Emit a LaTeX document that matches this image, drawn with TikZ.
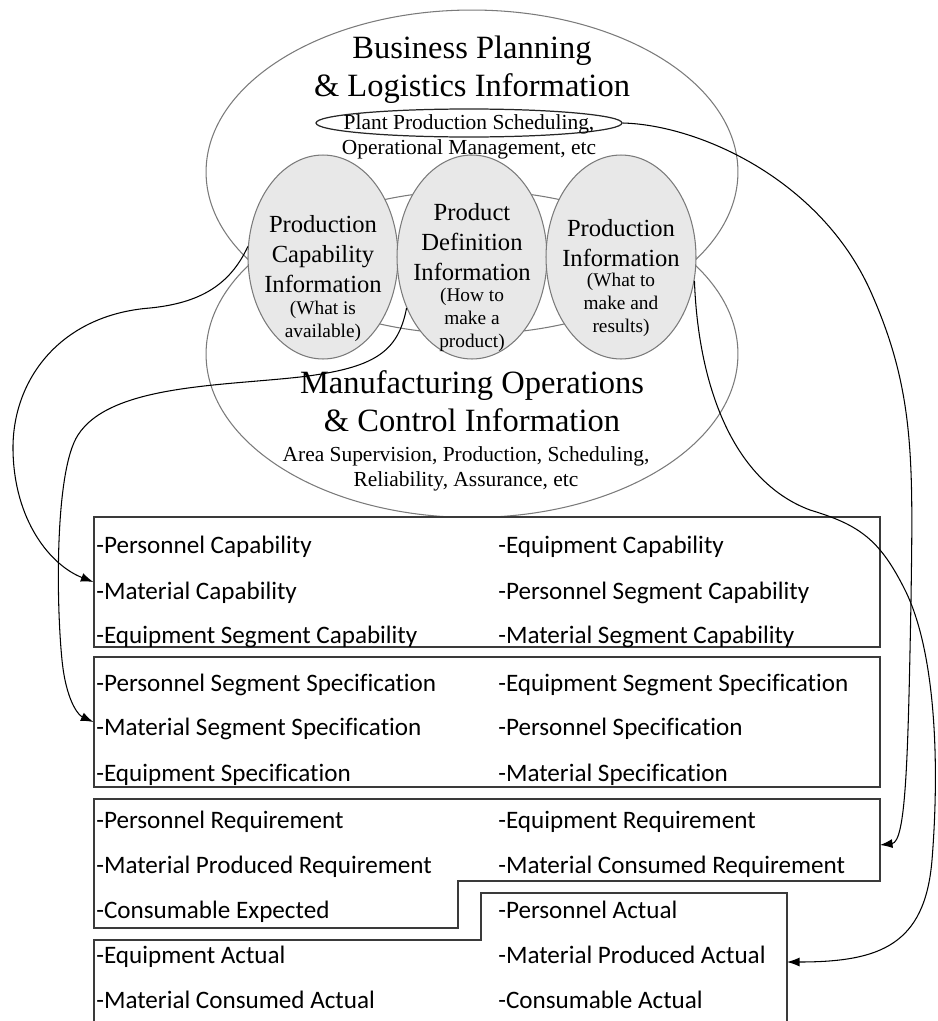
\documentclass[tikz,border=0pt]{standalone}
\usepackage{fontspec}
\setmainfont[Ligatures=NoCommon]{Liberation Serif}
\newfontfamily\boxfont[Ligatures=NoCommon]{Carlito}
\usetikzlibrary{arrows.meta,shapes.geometric,positioning}
\definecolor{ringgray}{HTML}{7A7A7A}
\definecolor{discfill}{HTML}{E8E8E8}
\definecolor{boxline}{HTML}{3A3A3A}

\tikzset{
  ring/.style={draw=ringgray, line width=0.6pt, ellipse, inner sep=0pt},
  disc/.style={ring, fill=discfill, minimum width=3cm, minimum height=4.08cm},
  big/.style={font=\fontsize{18.5}{21.6}\selectfont, align=center},
  mid/.style={font=\fontsize{14}{17}\selectfont, align=center},
  note/.style={font=\fontsize{11}{13}\selectfont, align=center},
  small/.style={font=\fontsize{12.2}{14.6}\selectfont, align=center},
  item/.style={font=\boxfont\fontsize{14.3}{16}\selectfont, anchor=base west, inner sep=0pt},
  listbox/.style={draw=boxline, line width=0.8pt, inner sep=0pt},
  link/.style={->, line width=0.6pt}
}

\begin{document}
\begin{tikzpicture}[x=0.02cm, y=-0.02cm, >={Latex[length=2.5mm,width=1.8mm]}]
  \useasboundingbox (0,0) rectangle (937,1021);

  % Information areas
  \node[ring, minimum width=10.64cm, minimum height=6.48cm] (bizell) at (472,172) {};
  \node[ring, minimum width=10.64cm, minimum height=6.54cm] (mfgell) at (472,354) {};
  \node[disc] (capinfo) at (323,257) {};
  \node[disc] (definfo) at (472,257) {};
  \node[disc] (prodinfo) at (621,257) {};
  \node[draw=black!85, line width=0.7pt, ellipse, inner sep=0pt,
        minimum width=6.12cm, minimum height=0.56cm] (schedell) at (469,123) {};

  \node[big] (biztitle) at (472,70) {Business Planning\\\& Logistics Information};
  \node[small] (biznote) at (469,137) {Plant Production Scheduling,\\Operational Management, etc};

  \node[mid] (captitle) at (323,254) {Production\\Capability\\Information};
  \node[note] (capnote) at (323,321) {(What is\\available)};
  \node[mid] (deftitle) at (472,242) {Product\\Definition\\Information};
  \node[note] (defnote) at (472,320) {(How to\\make a\\product)};
  \node[mid] (prodtitle) at (621,243) {Production\\Information};
  \node[note] (prodnote) at (621,305) {(What to\\make and\\results)};

  \node[big] (mfgtitle) at (472,401) {Manufacturing Operations\\\& Control Information};
  \node[small] (mfgnote) at (466,469) {Area Supervision, Production, Scheduling,\\Reliability, Assurance, etc};

  % Object lists
  \node[listbox, minimum width=15.72cm, minimum height=2.6cm] (capbox) at (487,582) {};
  \node[listbox, minimum width=15.72cm, minimum height=2.6cm] (specbox) at (487,722) {};
  \draw[listbox] (94,799) -- (880,799) -- (880,881) -- (458,881) -- (458,928) -- (94,928) -- cycle;
  \draw[listbox] (94,1021) -- (94,940) -- (481,940) -- (481,893) -- (787,893) -- (787,1021);
  \coordinate (reqtip) at (880,845);
  \coordinate (acttip) at (787,962);

  \node[item] (pcap) at (96,553) {-Personnel Capability};
  \node[item] (mcap) at (96,599) {-Material Capability};
  \node[item] (escap) at (96,643) {-Equipment Segment Capability};
  \node[item] (ecap) at (498,553) {-Equipment Capability};
  \node[item] (pscap) at (498,599) {-Personnel Segment Capability};
  \node[item] (mscap) at (498,643) {-Material Segment Capability};

  \node[item] (psspec) at (96,691) {-Personnel Segment Specification};
  \node[item] (msspec) at (96,735) {-Material Segment Specification};
  \node[item] (espec) at (96,781) {-Equipment Specification};
  \node[item] (esspec) at (498,691) {-Equipment Segment Specification};
  \node[item] (pspec) at (498,735) {-Personnel Specification};
  \node[item] (mspec) at (498,781) {-Material Specification};

  \node[item] (preq) at (96,828) {-Personnel Requirement};
  \node[item] (mpreq) at (96,873) {-Material Produced Requirement};
  \node[item] (cexp) at (96,918) {-Consumable Expected};
  \node[item] (ereq) at (498,828) {-Equipment Requirement};
  \node[item] (mcreq) at (498,873) {-Material Consumed Requirement};

  \node[item] (pact) at (498,918) {-Personnel Actual};
  \node[item] (mpact) at (498,963) {-Material Produced Actual};
  \node[item] (cact) at (498,1008) {-Consumable Actual};
  \node[item] (eact) at (96,963) {-Equipment Actual};
  \node[item] (mcact) at (96,1008) {-Material Consumed Actual};

  % Links
  \draw[link] (capinfo.172) .. controls (230,285) and (200,303) .. (150,308)
    .. controls (60,315) and (12,380) .. (13,450)
    .. controls (14,520) and (50,565) .. (capbox.west);
  \draw[link] (definfo.218) .. controls (398,352) and (375,368) .. (300,377)
    .. controls (220,386) and (110,385) .. (78,435)
    .. controls (55,470) and (56,600) .. (62,660)
    .. controls (66,700) and (78,715) .. (specbox.west);
  \draw[link] (schedell.east) .. controls (700,125) and (820,180) .. (870,290)
    .. controls (915,390) and (913,460) .. (911,600)
    .. controls (908,760) and (906,842) .. (reqtip);
  \draw[link] (prodinfo.-18) .. controls (698,380) and (730,480) .. (810,510)
    .. controls (860,525) and (880,540) .. (905,590)
    .. controls (935,650) and (940,760) .. (932,860)
    .. controls (925,945) and (880,962) .. (acttip);
\end{tikzpicture}
\end{document}
